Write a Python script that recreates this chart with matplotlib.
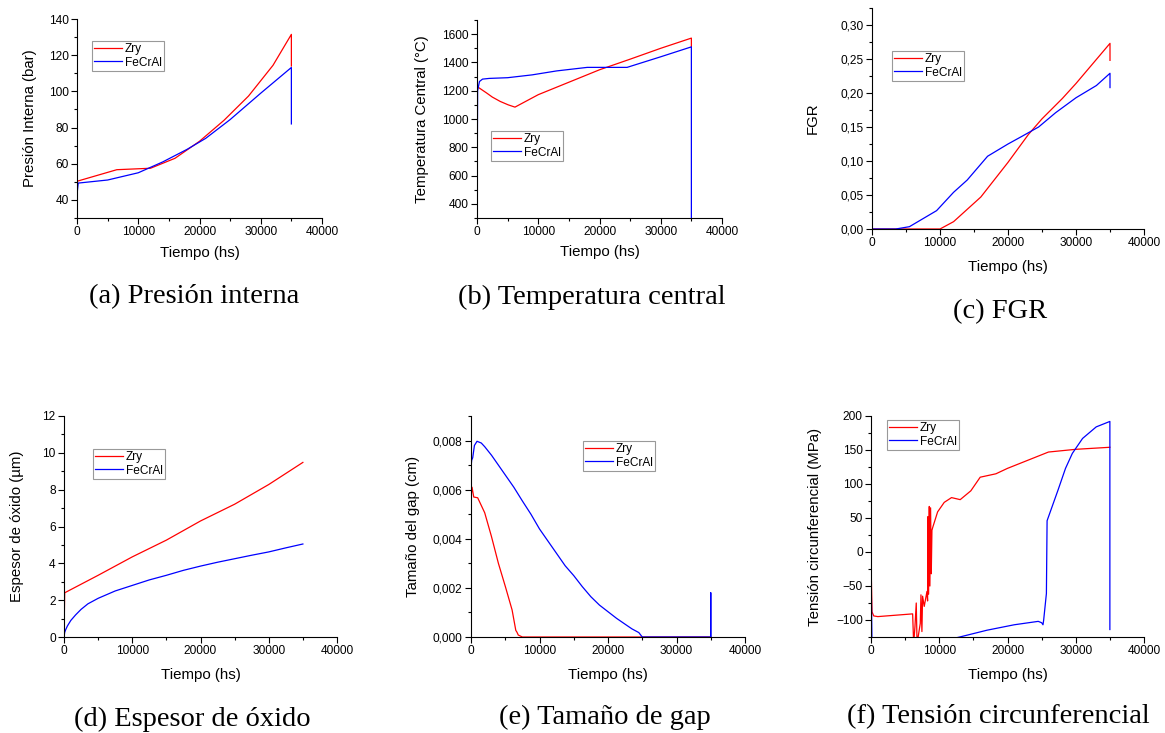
import matplotlib
matplotlib.use("Agg")
import matplotlib.pyplot as plt
from matplotlib.ticker import MultipleLocator, AutoMinorLocator, FuncFormatter

plt.rcParams['font.family'] = ['Liberation Sans', 'DejaVu Sans']

# (a) Presion interna
t_pres_zry = [0, 6500, 12000, 16000, 20000, 24000, 28000, 32000, 35000, 35000]
pres_zry = [50.3, 56.7, 57.5, 63, 72.4, 84, 97.4, 114.4, 131.5, 114]
t_pres_fe = [0, 200, 5000, 10000, 14000, 18000, 21000, 25000, 30000, 35000, 35000]
pres_fe = [43, 49.3, 51, 55, 61, 68, 74, 84.4, 99, 113.2, 82]

# (b) Temperatura central
t_temp_zry = [0, 1600, 2500, 3800, 5100, 6200, 10000, 15000, 20000, 25000, 30000, 35000, 35000]
temp_zry = [1230, 1183, 1155, 1124, 1100, 1084, 1172, 1260, 1348, 1423, 1500, 1572, 1510]
t_temp_fe = [0, 100, 400, 900, 2000, 5000, 9000, 13000, 18000, 24500, 30000, 35000, 35000]
temp_fe = [300, 1200, 1265, 1282, 1287, 1292, 1312, 1340, 1365, 1365, 1440, 1510, 300]

# (c) FGR
t_fgr_zry = [0, 10000, 12000, 16000, 20000, 23000, 25000, 28000, 30000, 35000, 35000]
fgr_zry = [0, 0, 0.0108, 0.047, 0.098, 0.139, 0.162, 0.192, 0.214, 0.273, 0.248]
t_fgr_fe = [0, 3500, 5500, 9500, 12000, 14000, 17000, 20000, 22000, 24500, 27000, 30000, 33000, 35000, 35000]
fgr_fe = [0, 0, 0.0034, 0.027, 0.054, 0.072, 0.107, 0.125, 0.136, 0.150, 0.171, 0.193, 0.211, 0.229, 0.208]

# (d) Espesor de oxido
t_ox_zry = [0, 100, 5000, 10000, 15000, 20000, 25000, 30000, 35000]
ox_zry = [0, 2.4, 3.35, 4.35, 5.26, 6.3, 7.21, 8.28, 9.48]
t_ox_fe = [0, 100, 250, 500, 1000, 1700, 2500, 3500, 5000, 7500, 10000, 12500, 15000, 17500, 20000,
           22500, 25000, 27500, 30000, 32500, 35000]
ox_fe = [0, 0.25, 0.4, 0.6, 0.9, 1.2, 1.5, 1.8, 2.1, 2.5, 2.8, 3.1, 3.35, 3.62, 3.85,
         4.06, 4.25, 4.44, 4.62, 4.84, 5.05]

# (e) Tamano de gap
t_gap_zry = [0, 20, 150, 400, 975, 2000, 2980, 4000, 5020, 6000, 6540, 6700, 6900, 7500, 35000]
gap_zry = [0.0068, 0.00575, 0.0061, 0.0057, 0.00567, 0.00506, 0.0041, 0.0030, 0.00205, 0.0011, 0.00027,
           0.0002, 0.00008, 0, 0]
t_gap_fe = [0, 100, 250, 500, 880, 1500, 2000, 3000, 4000, 5000, 6250, 7500, 8750, 10000, 11250, 12500,
            13750, 15000, 16250, 17500, 18750, 20000, 21250, 22500, 23500, 24500, 25000, 35000, 35000, 35000]
gap_fe = [0.0069, 0.0072, 0.0073, 0.0078, 0.00797, 0.0079, 0.00775, 0.0074, 0.0070, 0.0066, 0.0061,
          0.00554, 0.005, 0.0044, 0.0039, 0.0034, 0.0029, 0.0025, 0.00205, 0.00164, 0.0013, 0.00103,
          0.00076, 0.00052, 0.00033, 0.00018, 0, 0, 0.0018, 0]

# (f) Tension circunferencial
t_ten_zry = [0, 150, 400, 1000, 6100, 6250, 6440, 6630, 6750, 7220, 7320, 7460, 7560, 7800, 8200, 8290,
             8340, 8440, 8540, 8630, 8730, 8830, 8930, 9070, 9760, 10730, 11800, 13070, 14630, 16000,
             18300, 20000, 23000, 26000, 30000, 35000]
ten_zry = [-12, -88, -94, -95, -91, -135, -110, -75, -135, -105, -63, -117, -65, -80, -58, -72,
           52, -62, 67, -50, 65, -32, 32, 37, 59, 73, 80, 77, 90, 110,
           115, 123, 135, 147, 151, 154]
t_ten_fe = [0, 150, 5000, 10000, 13000, 17000, 21000, 24500, 25000, 25200, 25300, 25700, 25800, 27400,
            28500, 29500, 31000, 33000, 35000, 35000]
ten_fe = [-20, -140, -138, -132, -125, -115, -107, -102, -104, -107, -100, -61, 46, 91,
          123, 145, 167, 184, 192, -114]

W, H = 1165, 733
fig = plt.figure(figsize=(W / 100, H / 100), dpi=100)


def comma(dec):
    return FuncFormatter(lambda v, p: ("{:.%df}" % dec).format(v).replace(".", ","))


def make_ax(box, xs, ys, ylim, ystep, ylab, ylab_x, leg_xy, caption, cap_xy, ydec=0):
    l, r, t, b = box
    ax = fig.add_axes([l / W, 1 - b / H, (r - l) / W, (b - t) / H])
    ax.plot(xs[0], ys[0], color='#ff0000', lw=0.9, label='Zry')
    ax.plot(xs[1], ys[1], color='#0000ff', lw=0.9, label='FeCrAl')
    ax.set_xlim(0, 40000)
    ax.set_ylim(*ylim)
    ax.spines['top'].set_visible(False)
    ax.spines['right'].set_visible(False)
    ax.xaxis.set_major_locator(MultipleLocator(10000))
    ax.yaxis.set_major_locator(MultipleLocator(ystep))
    ax.xaxis.set_minor_locator(AutoMinorLocator(2))
    ax.yaxis.set_minor_locator(AutoMinorLocator(2))
    if ydec:
        ax.yaxis.set_major_formatter(comma(ydec))
    ax.tick_params(which='major', direction='out', length=4, width=0.8, labelsize=8.6, pad=2)
    ax.tick_params(which='minor', direction='out', length=2, width=0.8)
    ax.set_xlabel('Tiempo (hs)', fontsize=10.8, va='center')
    ax.xaxis.set_label_coords(0.5, -0.174)
    ax.set_ylabel(ylab, fontsize=10.8, va='center')
    ax.yaxis.set_label_coords((ylab_x - l) / (r - l), 0.5)
    leg = ax.legend(loc='upper left', bbox_to_anchor=(leg_xy[0] / W, 1 - leg_xy[1] / H),
                    bbox_transform=fig.transFigure, borderaxespad=0, fontsize=8.6,
                    fancybox=False, framealpha=1, edgecolor='#999999', handlelength=2.3,
                    handletextpad=0.25, labelspacing=0.1, borderpad=0.2)
    leg.get_frame().set_linewidth(0.8)
    fig.text(cap_xy[0] / W, 1 - cap_xy[1] / H, caption, ha='center', va='center',
             fontsize=20.5, family=['Liberation Serif', 'DejaVu Serif'])
    return ax


make_ax((77, 322, 19, 218), (t_pres_zry, t_pres_fe), (pres_zry, pres_fe), (30, 140), 20,
        'Presión Interna (bar)', 30, (92, 41), '(a) Presión interna', (194, 297))
make_ax((477, 722, 20, 218), (t_temp_zry, t_temp_fe), (temp_zry, temp_fe), (300, 1700), 200,
        'Temperatura Central (°C)', 422, (491, 131), '(b) Temperatura central', (592, 297))
make_ax((872, 1144, 8, 229), (t_fgr_zry, t_fgr_fe), (fgr_zry, fgr_fe), (0, 0.325), 0.05,
        'FGR', 813, (892, 51), '(c) FGR', (1000, 312), ydec=2)
make_ax((64, 337, 416, 637), (t_ox_zry, t_ox_fe), (ox_zry, ox_fe), (0, 12), 2,
        'Espesor de óxido (µm)', 17, (93, 449), '(d) Espesor de óxido', (192, 719))
make_ax((471, 745, 416, 637), (t_gap_zry, t_gap_fe), (gap_zry, gap_fe), (0, 0.009), 0.002,
        'Tamaño del gap (cm)', 413, (583, 441), '(e) Tamaño de gap', (605, 717), ydec=3)
make_ax((871, 1144, 416, 637), (t_ten_zry, t_ten_fe), (ten_zry, ten_fe), (-125, 200), 50,
        'Tensión circunferencial (MPa)', 815, (887, 420), '(f) Tensión circunferencial', (998, 717))

fig.savefig('out.png', dpi=100)
